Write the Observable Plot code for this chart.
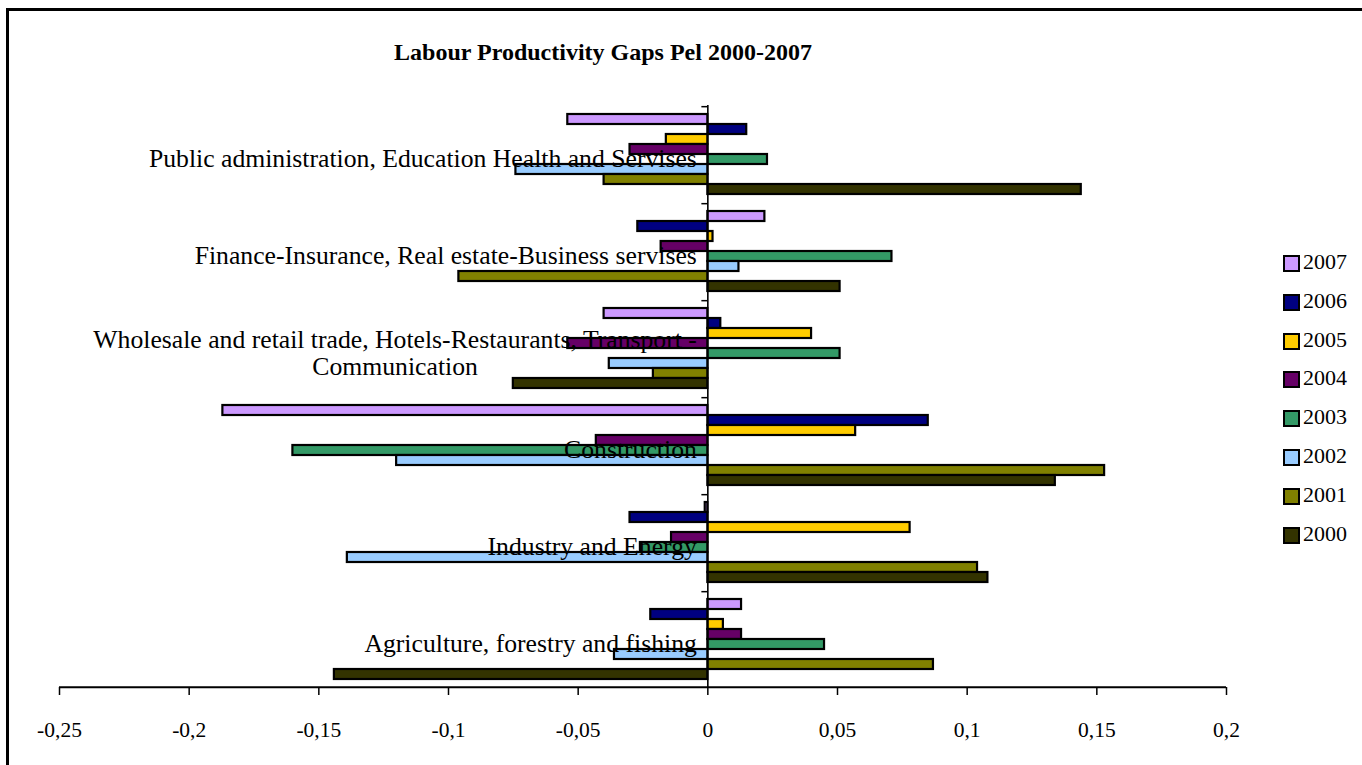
<!DOCTYPE html>
<html>
<head>
<meta charset="utf-8">
<script src="https://cdn.jsdelivr.net/npm/d3@7"></script>
<script src="https://cdn.jsdelivr.net/npm/@observablehq/plot@0.6"></script>
<style>
  html, body { margin: 0; padding: 0; background: #fff; overflow: hidden; }
  #wrap { position: relative; width: 1362px; height: 765px; font-family: "Liberation Serif", "Times New Roman", serif; }
  #border { position: absolute; left: 6px; top: 8px; width: 1400px; height: 800px; border-top: 3px solid #000; border-left: 3px solid #000; }
  #title { position: absolute; left: 0; top: 40px; width: 1206px; text-align: center; font-weight: bold; font-size: 24px; line-height: 24px; font-family: "Liberation Serif", serif; }
  #legend { position: absolute; left: 1283px; top: 252px; }
  .row { position: relative; height: 38.8px; }
  .sw { position: absolute; left: 0; top: 3px; width: 13px; height: 13px; border: 2px solid #000; }
  .lab { position: absolute; left: 20px; top: -2px; font-size: 22px; line-height: 24px; font-family: "Liberation Serif", serif; }
  #chart { position: absolute; left: 0; top: 0; }
</style>
</head>
<body>
<div id="wrap">
  <div id="chart"></div>
  <div id="border"></div>
  <div id="title"></div>
  <div id="legend"></div>
</div>
<script>
// Sectors, listed from the top of the chart downwards
const categories = [
  "Public administration, Education Health and Servises",
  "Finance-Insurance, Real estate-Business servises",
  "Wholesale and retail trade, Hotels-Restaurants, Transport -\nCommunication",
  "Construction",
  "Industry and Energy",
  "Agriculture, forestry and fishing"
];

// Years, in the order the bars are stacked inside each sector
const years = ["2007", "2006", "2005", "2004", "2003", "2002", "2001", "2000"];
const yearColors = ["#CC99FF", "#000080", "#FFCC00", "#660066", "#339966", "#99CCFF", "#808000", "#333300"];

// Productivity gap per sector (same order as categories)
const v2007 = [-0.054, 0.022, -0.040, -0.187, -0.001, 0.013];
const v2006 = [0.015, -0.027, 0.005, 0.085, -0.030, -0.022];
const v2005 = [-0.016, 0.002, 0.040, 0.057, 0.078, 0.006];
const v2004 = [-0.030, -0.018, -0.054, -0.043, -0.014, 0.013];
const v2003 = [0.023, 0.071, 0.051, -0.160, -0.026, 0.045];
const v2002 = [-0.074, 0.012, -0.038, -0.120, -0.139, -0.036];
const v2001 = [-0.040, -0.096, -0.021, 0.153, 0.104, 0.087];
const v2000 = [0.144, 0.051, -0.075, 0.134, 0.108, -0.144];

// Value axis ticks and their labels (comma decimals)
const xTicks = [-0.25, -0.2, -0.15, -0.1, -0.05, 0, 0.05, 0.1, 0.15, 0.2];
const xTickLabels = ["-0,25", "-0,2", "-0,15", "-0,1", "-0,05", "0", "0,05", "0,1", "0,15", "0,2"];

const titleText = "Labour Productivity Gaps Pel 2000-2007";

const series = [v2007, v2006, v2005, v2004, v2003, v2002, v2001, v2000];
const rows = [];
categories.forEach((c, ci) => {
  years.forEach((y, yi) => rows.push({category: c, year: y, value: series[yi][ci]}));
});

const serif = "Liberation Serif, Times New Roman, serif";
const bandOffset = 97.5 / 9.5 * 1.25; // half a bar plus the outer padding of a sector band
const tickLen = 0.0023;

const chart = Plot.plot({
  width: 1362,
  height: 765,
  marginLeft: 59,
  marginRight: 136,
  marginTop: 103,
  marginBottom: 77,
  style: {fontFamily: serif, background: "transparent"},
  x: {domain: [-0.25, 0.2], axis: null},
  y: {domain: years, paddingInner: 0, paddingOuter: 0.75, axis: null},
  fy: {domain: categories, padding: 0, axis: null},
  color: {domain: years, range: yearColors},
  marks: [
    Plot.barX(rows, {fy: "category", y: "year", x: "value", fill: "year", stroke: "#000", strokeWidth: 2.2}),
    Plot.text(categories, {
      fy: d => d, x: 0, text: d => d, frameAnchor: "middle",
      textAnchor: "end", dx: -11, dy: 5, fontSize: 25.7, lineHeight: 1.02, fill: "#000"
    }),
    Plot.ruleX([0], {stroke: "#000", strokeWidth: 1.6}),
    // small category ticks at the band edges
    Plot.ruleY(categories, {fy: d => d, y: () => years[0], x1: -tickLen, x2: 0, dy: -bandOffset, stroke: "#000", strokeWidth: 1.5}),
    Plot.ruleY(categories.slice(-1), {fy: d => d, y: () => years[years.length - 1], x1: -0.25, x2: 0.2, dy: bandOffset, stroke: "#000", strokeWidth: 2}),
    Plot.axisX({
      ticks: xTicks, tickFormat: d => xTickLabels[xTicks.indexOf(d)], label: null,
      anchor: "bottom", facetAnchor: "bottom", tickSize: 8, tickPadding: 26,
      fontSize: 21.5, stroke: "#000", strokeWidth: 1.5, fill: "#000", strokeOpacity: 1
    })
  ]
});
document.getElementById("chart").appendChild(chart);

// Center the continuation line of wrapped sector labels under the first line
chart.querySelectorAll("text").forEach(t => {
  const spans = t.querySelectorAll("tspan");
  if (spans.length > 1) {
    const w = spans[0].getComputedTextLength();
    t.setAttribute("text-anchor", "middle");
    spans.forEach(s => s.setAttribute("x", -w / 2));
  }
});

document.getElementById("title").textContent = titleText;

const legend = document.getElementById("legend");
years.forEach((y, i) => {
  const row = document.createElement("div");
  row.className = "row";
  const sw = document.createElement("div");
  sw.className = "sw";
  sw.style.background = yearColors[i];
  const lab = document.createElement("div");
  lab.className = "lab";
  lab.textContent = y;
  row.appendChild(sw);
  row.appendChild(lab);
  legend.appendChild(row);
});
</script>
</body>
</html>
